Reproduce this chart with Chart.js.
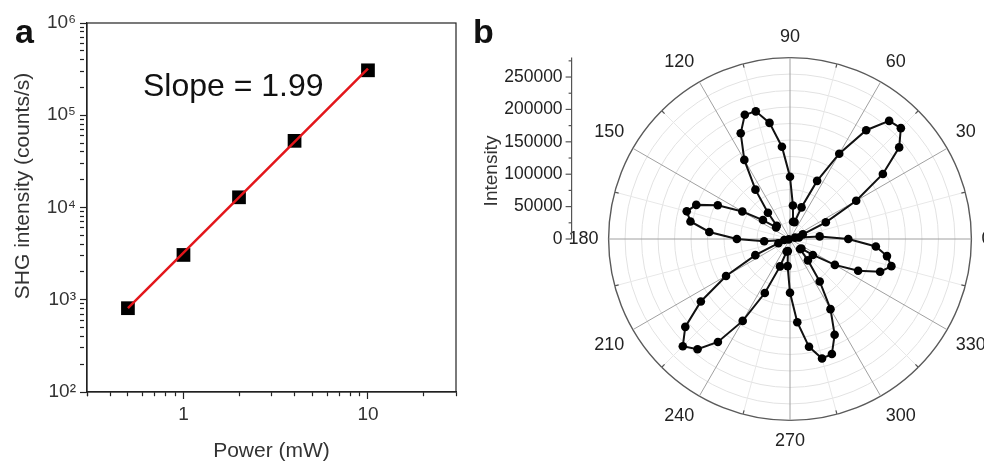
<!DOCTYPE html>
<html>
<head>
<meta charset="utf-8">
<script src="https://cdn.jsdelivr.net/npm/chart.js@4.4.1/dist/chart.umd.min.js"></script>
<style>
  html, body { margin: 0; padding: 0; background: #fff; overflow: hidden; }
  body { width: 984px; height: 467px; position: relative; }
  #wrapA { position: absolute; left: 0; top: 0; }
  #wrapB { position: absolute; left: 470px; top: 0; }
</style>
</head>
<body>
<div id="wrapA"><canvas id="powerChart" width="480" height="467"></canvas></div>
<div id="wrapB"><canvas id="polarChart" width="590" height="467"></canvas></div>
<script>
// (a) SHG intensity vs pump power
const powerMW = [0.5, 1, 2, 4, 10];
const shgCounts = [810, 3060, 12900, 52800, 307000];
const fitPower = [0.5, 10];
const fitCounts = [810, 320000];
const slopeText = 'Slope = 1.99';

// (b) polarization dependence, one point every 5 degrees
const polarAngles = [
  0, 5, 10, 15, 20, 25, 30, 35, 40, 45, 50, 55,
  60, 65, 70, 75, 80, 85, 90, 95, 100, 105, 110, 115,
  120, 125, 130, 135, 140, 145, 150, 155, 160, 165, 170, 175,
  180, 185, 190, 195, 200, 205, 210, 215, 220, 225, 230, 235,
  240, 245, 250, 255, 260, 265, 270, 275, 280, 285, 290, 295,
  300, 305, 310, 315, 320, 325, 330, 335, 340, 345, 350, 355
];
const polarIntensity = [
  90000, 46000, 14000, 8000, 21000, 61000, 118000, 175000, 220000, 242000, 238000, 205000,
  152000, 99000, 52000, 27000, 27000, 52000, 96000, 143000, 182000, 204000, 204000, 180000,
  141000, 93000, 53000, 29000, 28000, 51000, 85000, 123000, 154000, 165000, 156000, 125000,
  82000, 40000, 9000, 2000, 19000, 59000, 114000, 168000, 211000, 234000, 222000, 194000,
  146000, 92000, 45000, 20000, 19000, 42000, 83000, 129000, 169000, 191000, 189000, 163000,
  125000, 80000, 43000, 22000, 23000, 43000, 80000, 116000, 148000, 162000, 152000, 133000
];
const angleLabels = [0, 30, 60, 90, 120, 150, 180, 210, 240, 270, 300, 330];
const intensityTicks = [0, 50000, 100000, 150000, 200000, 250000];
const intensityMax = 280000;

const FONT = "'Liberation Sans', Arial, Helvetica, sans-serif";
const SUP = { '0': '⁰', '1': '¹', '2': '²', '3': '³', '4': '⁴', '5': '⁵', '6': '⁶', '7': '⁷', '8': '⁸', '9': '⁹' };

const isDecade = v => Math.abs(Math.log10(v) - Math.round(Math.log10(v))) < 1e-9;
const mantissa = v => v / Math.pow(10, Math.floor(Math.log10(v) + 1e-9));
// chart.js puts an extra tick at 1.5 x 10^n on log axes, drop it
const dropHalfSteps = axis => {
  axis.ticks = axis.ticks.filter(t => Math.abs(mantissa(t.value) - 1.5) > 1e-6);
};

const logGrid = {
  drawOnChartArea: false,
  drawTicks: true,
  tickLength: 7,
  tickWidth: 1.2,
  tickColor: '#222',
  tickBorderDash: ctx => (ctx.tick && isDecade(ctx.tick.value)) ? [] : [4, 20]
};

const frameAndText = {
  id: 'frameAndText',
  afterDraw(chart) {
    const { ctx, chartArea: a } = chart;
    ctx.save();
    ctx.strokeStyle = '#222';
    ctx.lineWidth = 1.2;
    ctx.strokeRect(a.left, a.top, a.right - a.left, a.bottom - a.top);

    ctx.fillStyle = '#111';
    ctx.font = `32px ${FONT}`;
    ctx.textAlign = 'left';
    ctx.textBaseline = 'alphabetic';
    ctx.fillText(slopeText, 143, 96);

    ctx.font = `bold 34px ${FONT}`;
    ctx.fillText('a', 15, 43);

    ctx.font = `21px ${FONT}`;
    ctx.fillStyle = '#333';
    ctx.translate(23, 186);
    ctx.rotate(-Math.PI / 2);
    ctx.textAlign = 'center';
    ctx.textBaseline = 'middle';
    ctx.fillText('SHG intensity (counts/s)', 0, 0);
    ctx.restore();
  }
};

new Chart(document.getElementById('powerChart'), {
  type: 'scatter',
  data: {
    datasets: [
      {
        data: fitPower.map((x, i) => ({ x, y: fitCounts[i] })),
        showLine: true,
        borderColor: '#e3161b',
        borderWidth: 2.5,
        pointRadius: 0
      },
      {
        data: powerMW.map((x, i) => ({ x, y: shgCounts[i] })),
        pointStyle: 'rect',
        pointRadius: 9.7,
        backgroundColor: '#000',
        borderWidth: 0
      }
    ]
  },
  options: {
    responsive: false,
    animation: false,
    devicePixelRatio: 1,
    layout: { padding: { top: 23, right: 24, left: 0, bottom: 0 } },
    plugins: { legend: { display: false }, tooltip: { enabled: false } },
    scales: {
      x: {
        type: 'logarithmic',
        min: 0.3,
        max: 30,
        afterBuildTicks: dropHalfSteps,
        afterFit: s => { s.height = 75; },
        grid: logGrid,
        border: { display: true, color: '#222', width: 1.2 },
        ticks: {
          autoSkip: false,
          maxRotation: 0,
          padding: 4,
          color: '#333',
          font: { size: 19, family: FONT },
          callback: v => isDecade(v) ? String(Math.round(v)) : ''
        },
        title: {
          display: true,
          text: 'Power (mW)',
          color: '#333',
          font: { size: 21, family: FONT },
          padding: { top: 0, bottom: 3 }
        }
      },
      y: {
        type: 'logarithmic',
        min: 100,
        max: 1000000,
        afterBuildTicks: dropHalfSteps,
        afterFit: s => { s.width = 87; },
        grid: logGrid,
        border: { display: true, color: '#222', width: 1.2 },
        ticks: {
          autoSkip: false,
          padding: 4,
          color: '#333',
          font: { size: 19, family: FONT },
          callback: v => isDecade(v)
            ? '10' + String(Math.round(Math.log10(v))).split('').map(d => SUP[d]).join('')
            : ''
        }
      }
    }
  },
  plugins: [frameAndText]
});

// radar runs clockwise from the top, so walk the angles downward from 90
const start = polarAngles.indexOf(90);
const n = polarAngles.length;
const radarOrder = polarAngles.map((_, i) => (start - i + n) % n);
const radarLabels = radarOrder.map(k => polarAngles[k]);
const radarValues = radarOrder.map(k => polarIntensity[k]);

const polarExtras = {
  id: 'polarExtras',
  afterDraw(chart) {
    const r = chart.scales.r;
    const ctx = chart.ctx;
    const yOf = v => r.yCenter - r.getDistanceFromCenterForValue(v);
    const axisX = r.xCenter - r.drawingArea - 37;
    const line = (x1, y1, x2, y2) => { ctx.beginPath(); ctx.moveTo(x1, y1); ctx.lineTo(x2, y2); ctx.stroke(); };

    ctx.save();
    ctx.strokeStyle = '#555';
    ctx.lineWidth = 1.2;

    // small ticks on the outer ring halfway between labelled angles
    radarLabels.forEach((a, i) => {
      if (a % 30 === 15) {
        const p1 = r.getPointPosition(i, r.drawingArea);
        const p2 = r.getPointPosition(i, r.drawingArea - 4);
        line(p1.x, p1.y, p2.x, p2.y);
      }
    });

    // radial intensity axis on the left
    line(axisX, yOf(0), axisX, yOf(intensityMax));
    ctx.font = `17.5px ${FONT}`;
    ctx.fillStyle = '#222';
    ctx.textAlign = 'right';
    ctx.textBaseline = 'middle';
    intensityTicks.forEach(v => {
      const y = yOf(v);
      line(axisX - 6, y, axisX, y);
      ctx.fillText(String(v), axisX - 9, y);
      const ym = yOf(v + 25000);
      line(axisX - 3, ym, axisX, ym);
    });

    ctx.font = `19px ${FONT}`;
    ctx.fillStyle = '#333';
    ctx.save();
    ctx.translate(axisX - 80, r.yCenter - 68);
    ctx.rotate(-Math.PI / 2);
    ctx.textAlign = 'center';
    ctx.fillText('Intensity', 0, 0);
    ctx.restore();

    ctx.font = `bold 34px ${FONT}`;
    ctx.fillStyle = '#111';
    ctx.textAlign = 'left';
    ctx.textBaseline = 'alphabetic';
    ctx.fillText('b', 3, 43);
    ctx.restore();
  }
};

new Chart(document.getElementById('polarChart'), {
  type: 'radar',
  data: {
    labels: radarLabels,
    datasets: [{
      data: radarValues,
      borderColor: '#111',
      borderWidth: 2,
      pointRadius: 4.3,
      pointBackgroundColor: '#000',
      pointBorderWidth: 0,
      fill: false,
      tension: 0
    }]
  },
  options: {
    responsive: false,
    animation: false,
    devicePixelRatio: 1,
    layout: { padding: { left: 50, right: 0, top: 27, bottom: 14 } },
    plugins: { legend: { display: false }, tooltip: { enabled: false } },
    scales: {
      r: {
        min: 0,
        max: intensityMax,
        startAngle: 0,
        ticks: { display: false, stepSize: 25000 },
        grid: {
          circular: true,
          color: ctx => {
            const v = ctx.tick.value;
            if (v >= intensityMax) return '#5a5a5a';
            return v % 50000 === 0 ? '#b4b4b4' : '#e2e2e2';
          },
          lineWidth: ctx => ctx.tick.value >= intensityMax ? 1.4 : 1
        },
        angleLines: {
          color: ctx => {
            const a = radarLabels[ctx.index];
            if (a % 30 === 0) return '#a0a0a0';
            if (a % 15 === 0) return '#e8e8e8';
            return 'rgba(0,0,0,0)';
          },
          lineWidth: 1
        },
        pointLabels: {
          padding: 10,
          color: '#222',
          font: { size: 18, family: FONT },
          callback: label => angleLabels.includes(label) ? String(label) : ''
        }
      }
    }
  },
  plugins: [polarExtras]
});
</script>
</body>
</html>
